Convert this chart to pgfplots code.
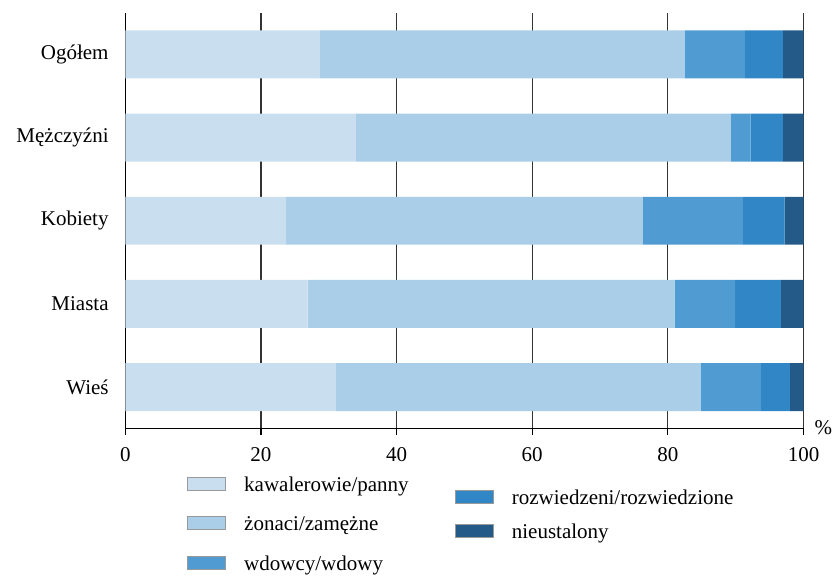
\documentclass[border=0pt]{standalone}
\usepackage{fontspec}
\setmainfont{Liberation Serif}
\usepackage{pgfplots}
\pgfplotsset{compat=1.18}
\definecolor{c1}{HTML}{C9DFEF}
\definecolor{c2}{HTML}{AACEE8}
\definecolor{c3}{HTML}{519BD3}
\definecolor{c4}{HTML}{3186C6}
\definecolor{c5}{HTML}{235A88}
\pgfplotsset{
  mylegend/.style={legend image code/.code={\draw[##1, draw=black!40, line width=0.5pt] (0pt,-1.8pt) rectangle (19pt,4.7pt);}},
  leg/.style={legend style={draw=none, fill=none, inner sep=0pt, outer sep=0pt, anchor=north west,
    nodes={inner sep=0pt, text height=7.5pt, text depth=2.5pt},
    column sep=9pt, font=\fontsize{10.5}{12.6}\selectfont}, legend cell align=left},
}
\begin{document}
\fontsize{10.5}{12.6}\selectfont
\begin{tikzpicture}[font=\fontsize{10.5}{12.6}\selectfont]
\begin{axis}[
  scale only axis, width=339.2pt, height=207.9pt,
  xbar stacked, bar width=24pt,
  xmin=0, xmax=100, ymin=-0.5, ymax=4.5,
  axis x line*=bottom, axis y line*=left,
  axis line style={black, line width=0.6pt},
  xtick={0,20,...,100},
  ytick={0,1,2,3,4},
  yticklabels={Wieś,Miasta,Kobiety,Mężczyźni,Ogółem},
  tick align=outside, major tick length=3.15pt,
  xtick style={black, line width=0.6pt},
  ytick style={draw=none},
  xmajorgrids, grid style={black!80, line width=0.6pt},
  /pgf/number format/assume math mode=true,
  yticklabel style={anchor=east, inner sep=0pt, xshift=-5pt},
  xticklabel style={anchor=base, inner sep=0pt, yshift=-13.5pt},
  clip=false,
  leg, legend style={at={(0.0914,-0.115)}, row sep=9.8pt},
]
\addplot[fill=c1, draw=none, mylegend] coordinates {(31.05,0) (26.9,1) (23.7,2) (34.0,3) (28.7,4)};
\addplot[fill=c2, draw=none, mylegend] coordinates {(53.8,0) (54.1,1) (52.6,2) (55.3,3) (53.8,4)};
\addplot[fill=c3, draw=none, mylegend] coordinates {(8.85,0) (8.9,1) (14.75,2) (2.9,3) (8.85,4)};
\addplot[fill=c4, draw=none, mylegend] coordinates {(4.3,0) (6.75,1) (6.15,2) (4.75,3) (5.6,4)};
\addplot[fill=c5, draw=none, mylegend] coordinates {(2.0,0) (3.35,1) (2.8,2) (3.05,3) (3.05,4)};
\legend{kawalerowie/panny, żonaci/zamężne, wdowcy/wdowy}
\node[anchor=base west, inner sep=0pt] at (rel axis cs:1,0) [xshift=5.3pt, yshift=-3.15pt] {\%};
\path (rel axis cs:0,0) ++(-62.65pt,-74.15pt) rectangle ++(416pt,288.5pt);
\end{axis}
\begin{axis}[
  scale only axis, width=339.2pt, height=207.9pt, hide axis,
  xmin=0, xmax=100, ymin=-0.5, ymax=4.5,
  leg, legend style={at={(0.486,-0.1475)}, row sep=6.9pt},
]
\addlegendimage{mylegend, fill=c4, draw=none}
\addlegendentry{rozwiedzeni/rozwiedzione}
\addlegendimage{mylegend, fill=c5, draw=none}
\addlegendentry{nieustalony}
\end{axis}
\end{tikzpicture}
\end{document}
